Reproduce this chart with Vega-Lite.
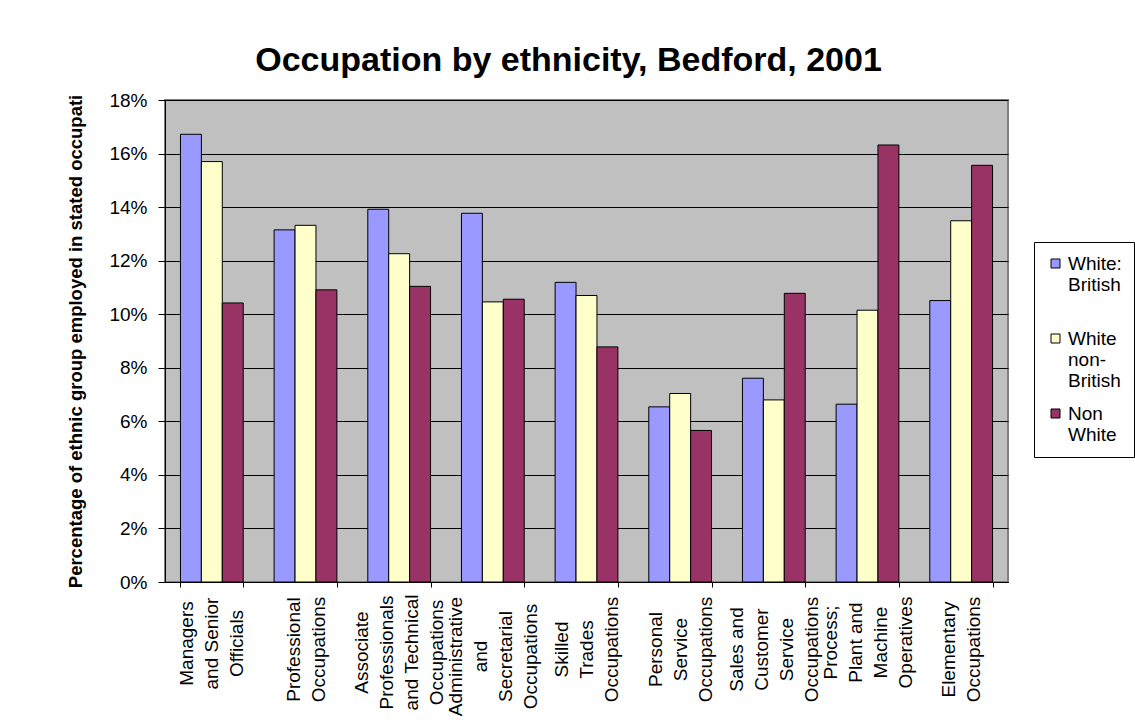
{
  "$schema": "https://vega.github.io/schema/vega-lite/v6.json",
  "autosize": {"type": "none"},
  "padding": {"left": 165, "top": 100, "right": 127, "bottom": 143},
  "width": 843,
  "height": 482,
  "background": "white",
  "title": {
    "text": "Occupation by ethnicity, Bedford, 2001",
    "fontSize": 34,
    "fontWeight": "bold",
    "color": "black",
    "anchor": "middle",
    "frame": "group",
    "dx": -18,
    "dy": 35,
    "baseline": "alphabetic",
    "offset": 21
  },
  "data": {
    "values": [
      {"occupation": "Managers and Senior Officials", "group": "White: British", "share": 0.1672},
      {"occupation": "Managers and Senior Officials", "group": "White non-British", "share": 0.1570},
      {"occupation": "Managers and Senior Officials", "group": "Non White", "share": 0.1042},
      {"occupation": "Professional Occupations", "group": "White: British", "share": 0.1315},
      {"occupation": "Professional Occupations", "group": "White non-British", "share": 0.1332},
      {"occupation": "Professional Occupations", "group": "Non White", "share": 0.1091},
      {"occupation": "Associate Professionals and Technical Occupations", "group": "White: British", "share": 0.1392},
      {"occupation": "Associate Professionals and Technical Occupations", "group": "White non-British", "share": 0.1226},
      {"occupation": "Associate Professionals and Technical Occupations", "group": "Non White", "share": 0.1104},
      {"occupation": "Administrative and Secretarial Occupations", "group": "White: British", "share": 0.1377},
      {"occupation": "Administrative and Secretarial Occupations", "group": "White non-British", "share": 0.1046},
      {"occupation": "Administrative and Secretarial Occupations", "group": "Non White", "share": 0.1056},
      {"occupation": "Skilled Trades Occupations", "group": "White: British", "share": 0.1119},
      {"occupation": "Skilled Trades Occupations", "group": "White non-British", "share": 0.1070},
      {"occupation": "Skilled Trades Occupations", "group": "Non White", "share": 0.0878},
      {"occupation": "Personal Service Occupations", "group": "White: British", "share": 0.0654},
      {"occupation": "Personal Service Occupations", "group": "White non-British", "share": 0.0704},
      {"occupation": "Personal Service Occupations", "group": "Non White", "share": 0.0566},
      {"occupation": "Sales and Customer Service Occupations", "group": "White: British", "share": 0.0761},
      {"occupation": "Sales and Customer Service Occupations", "group": "White non-British", "share": 0.0680},
      {"occupation": "Sales and Customer Service Occupations", "group": "Non White", "share": 0.1078},
      {"occupation": "Process; Plant and Machine Operatives", "group": "White: British", "share": 0.0664},
      {"occupation": "Process; Plant and Machine Operatives", "group": "White non-British", "share": 0.1015},
      {"occupation": "Process; Plant and Machine Operatives", "group": "Non White", "share": 0.1632},
      {"occupation": "Elementary Occupations", "group": "White: British", "share": 0.1051},
      {"occupation": "Elementary Occupations", "group": "White non-British", "share": 0.1349},
      {"occupation": "Elementary Occupations", "group": "Non White", "share": 0.1556}
    ]
  },
  "mark": {"type": "bar", "stroke": "black", "strokeWidth": 1},
  "encoding": {
    "x": {
      "field": "occupation",
      "type": "nominal",
      "sort": null,
      "scale": {"paddingInner": 0.33, "paddingOuter": 0.165},
      "axis": {
        "title": null,
        "domainColor": "black",
        "tickColor": "black",
        "tickSize": 5,
        "tickBand": "extent",
        "labelAngle": 270,
        "labelAlign": "center",
        "labelBaseline": "middle",
        "labelPadding": {
          "condition": [
            {"test": "datum.value == 'Administrative and Secretarial Occupations'", "value": 69},
            {"test": "datum.value == 'Associate Professionals and Technical Occupations'", "value": 65},
            {"test": "datum.value == 'Managers and Senior Officials'", "value": 56},
            {"test": "datum.value == 'Process; Plant and Machine Operatives'", "value": 55}
          ],
          "value": 62
        },
        "labelOffset": {
          "condition": [
            {"test": "indexof(['Associate Professionals and Technical Occupations', 'Administrative and Secretarial Occupations', 'Sales and Customer Service Occupations', 'Process; Plant and Machine Operatives'], datum.value) >= 0", "value": -37.5},
            {"test": "indexof(['Professional Occupations', 'Elementary Occupations'], datum.value) >= 0", "value": -12.5}
          ],
          "value": -25
        },
        "labelFontSize": 19,
        "labelLineHeight": 25,
        "labelColor": "black",
        "labelLimit": 400,
        "labelExpr": "datum.value == 'Managers and Senior Officials' ? ['Managers', 'and Senior', 'Officials'] : datum.value == 'Professional Occupations' ? ['Professional', 'Occupations'] : datum.value == 'Associate Professionals and Technical Occupations' ? ['Associate', 'Professionals', 'and Technical', 'Occupations'] : datum.value == 'Administrative and Secretarial Occupations' ? ['Administrative', 'and', 'Secretarial', 'Occupations'] : datum.value == 'Skilled Trades Occupations' ? ['Skilled', 'Trades', 'Occupations'] : datum.value == 'Personal Service Occupations' ? ['Personal', 'Service', 'Occupations'] : datum.value == 'Sales and Customer Service Occupations' ? ['Sales and', 'Customer', 'Service', 'Occupations'] : datum.value == 'Process; Plant and Machine Operatives' ? ['Process;', 'Plant and', 'Machine', 'Operatives'] : datum.value == 'Elementary Occupations' ? ['Elementary', 'Occupations'] : ''"
      }
    },
    "xOffset": {
      "field": "group",
      "type": "nominal",
      "sort": ["White: British", "White non-British", "Non White"]
    },
    "y": {
      "field": "share",
      "type": "quantitative",
      "scale": {"domain": [0, 0.18], "nice": false},
      "axis": {
        "title": "Percentage of ethnic group employed in stated occupati",
        "titleFontSize": 18.5,
        "titleFontWeight": "bold",
        "titleColor": "black",
        "titlePadding": 23,
        "format": ".0%",
        "values": [0, 0.02, 0.04, 0.06, 0.08, 0.1, 0.12, 0.14, 0.16, 0.18],
        "labelFontSize": 19,
        "labelColor": "black",
        "labelPadding": 11,
        "tickSize": 7,
        "tickColor": "black",
        "domainColor": "black",
        "grid": true,
        "gridColor": "black",
        "gridOpacity": 1
      }
    },
    "color": {
      "field": "group",
      "type": "nominal",
      "scale": {
        "domain": ["White: British", "White non-British", "Non White"],
        "range": ["#9999FF", "#FFFFCC", "#993366"]
      },
      "legend": {
        "title": null,
        "orient": "none",
        "legendX": 869,
        "legendY": 142,
        "strokeColor": "black",
        "fillColor": "white",
        "padding": 12,
        "symbolType": "square",
        "symbolSize": 81,
        "symbolStrokeColor": "black",
        "symbolStrokeWidth": 1,
        "labelFontSize": 19,
        "labelColor": "black",
        "labelBaseline": "middle",
        "labelOffset": 3,
        "labelLimit": 200,
        "gridAlign": "all",
        "rowPadding": 13,
        "labelExpr": "datum.label == 'White: British' ? ['White:', 'British'] : datum.label == 'White non-British' ? ['White', 'non-', 'British'] : ['Non', 'White']"
      }
    }
  },
  "config": {
    "font": "Liberation Sans",
    "view": {"fill": "#C0C0C0", "stroke": "#808080", "strokeWidth": 2},
    "axis": {"labelFont": "Liberation Sans", "titleFont": "Liberation Sans"},
    "legend": {"labelFont": "Liberation Sans"}
  }
}
